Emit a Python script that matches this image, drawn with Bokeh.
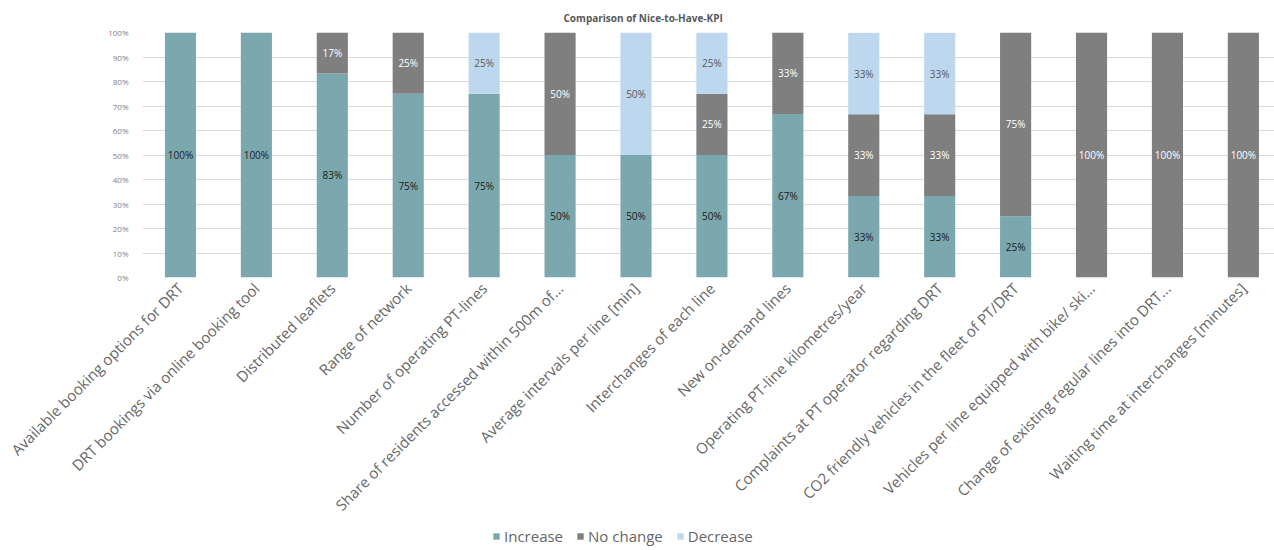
import math
from bokeh.plotting import figure
from bokeh.layouts import column
from bokeh.models import (ColumnDataSource, Range1d, FixedTicker, Legend, LegendItem,
                          NumeralTickFormatter)
from bokeh.core.properties import value
from bokeh.embed import file_html
from bokeh.resources import INLINE

# KPI categories (x axis)
categories = [
    "Available booking options for DRT",
    "DRT bookings via online booking tool",
    "Distributed leaflets",
    "Range of network",
    "Number of operating PT-lines",
    "Share of residents accessed within 500m of...",
    "Average intervals per line [min]",
    "Interchanges of each line",
    "New on-demand lines",
    "Operating PT-line kilometres/year",
    "Complaints at PT operator regarding DRT",
    "CO2 friendly vehicles in the fleet of PT/DRT",
    "Vehicles per line equipped with bike/ ski...",
    "Change of existing regular lines into DRT...",
    "Waiting time at interchanges [minutes]",
]

# Share of answers per category, in percent
increase = [100, 100, 83.3, 75, 75, 50, 50, 50, 66.7, 33.3, 33.3, 25, 0, 0, 0]
no_change = [0, 0, 16.7, 25, 0, 50, 0, 25, 33.3, 33.3, 33.3, 75, 100, 100, 100]
decrease = [0, 0, 0, 0, 25, 0, 50, 25, 0, 33.3, 33.3, 0, 0, 0, 0]

series_names = ["Increase", "No change", "Decrease"]
colors = ["#7BA8AF", "#7F7F7F", "#BDD7EE"]
label_colors = ["#1a1a1a", "#ffffff", "#595959"]
text_grey = "#666666"

xs = list(range(len(categories)))
frac = {
    "x": xs,
    "Increase": [v / 100 for v in increase],
    "No change": [v / 100 for v in no_change],
    "Decrease": [v / 100 for v in decrease],
}
src = ColumnDataSource(frac)

p = figure(width=1274, height=526, output_backend="svg", toolbar_location=None,
           x_range=Range1d(-0.5, 14.41), y_range=Range1d(0, 1),
           min_border_left=142, min_border_right=0, min_border_top=32,
           min_border_bottom=249)
p.outline_line_color = None

p.title.text = "Comparison of Nice-to-Have-KPI"
p.title.align = "left"
p.title.offset = 421
p.title.text_font = "Open Sans"
p.title.text_font_style = "bold"
p.title.text_font_size = "10px"
p.title.text_color = "#595959"
p.title.standoff = 16

p.vbar_stack(series_names, x="x", width=0.41, source=src,
             color=colors, line_color=None)

# Segment value labels, centred in each stacked block
for k, name in enumerate(series_names):
    tx, ty, tt = [], [], []
    for i in xs:
        base = sum(frac[series_names[j]][i] for j in range(k))
        v = frac[name][i]
        if v > 0:
            tx.append(i)
            ty.append(base + v / 2)
            tt.append(f"{round(v * 100)}%")
    p.text(x=tx, y=ty, text=tt, text_align="center", text_baseline="middle",
           text_font=value("Open Sans"), text_font_size="10px",
           text_color=label_colors[k])

# Axes
p.yaxis.ticker = FixedTicker(ticks=[i / 10 for i in range(11)])
p.yaxis.formatter = NumeralTickFormatter(format="0%")
p.yaxis.axis_line_color = None
p.yaxis.major_tick_line_color = None
p.yaxis.minor_tick_line_color = None
p.yaxis.major_label_text_font = "Open Sans"
p.yaxis.major_label_text_font_size = "8px"
p.yaxis.major_label_text_color = "#7F7F7F"
p.yaxis.major_label_standoff = 8

p.xaxis.ticker = FixedTicker(ticks=xs)
p.xaxis.major_label_overrides = {i: c for i, c in enumerate(categories)}
p.xaxis.major_label_orientation = math.pi / 4
p.xaxis.axis_line_color = None
p.xaxis.major_tick_line_color = None
p.xaxis.minor_tick_line_color = None
p.xaxis.major_label_text_font = "Open Sans"
p.xaxis.major_label_text_font_size = "15px"
p.xaxis.major_label_text_color = text_grey
p.xaxis.major_label_standoff = 2

p.xgrid.grid_line_color = None
p.ygrid.grid_line_color = "#D9D9D9"
p.ygrid.grid_line_width = 1
p.ygrid.ticker = FixedTicker(ticks=[i / 10 for i in range(11)])

# Legend strip beneath the chart; its stacked bars sit outside the visible range
lg = figure(width=1274, height=24, output_backend="svg", toolbar_location=None,
            x_range=Range1d(-100, -99), y_range=Range1d(0, 1),
            x_axis_location=None, y_axis_location=None,
            min_border_left=0, min_border_right=0, min_border_top=0,
            min_border_bottom=0)
lg.outline_line_color = None
lg.xgrid.visible = False
lg.ygrid.visible = False
swatches = lg.vbar_stack(series_names, x="x", width=0.41, source=src,
                         color=colors, line_color=None)
legend = Legend(items=[LegendItem(label=n, renderers=[r]) for n, r in zip(series_names, swatches)],
                orientation="horizontal", location=(350, 4),
                label_text_font="Open Sans", label_text_font_size="15px",
                label_text_color=text_grey, glyph_width=8, glyph_height=8,
                label_height=16, label_standoff=4, spacing=13, padding=0, margin=0,
                border_line_color=None, background_fill_alpha=0)
lg.add_layout(legend, "center")

open("out.html", "w").write(file_html(column(p, lg, spacing=0), INLINE))
